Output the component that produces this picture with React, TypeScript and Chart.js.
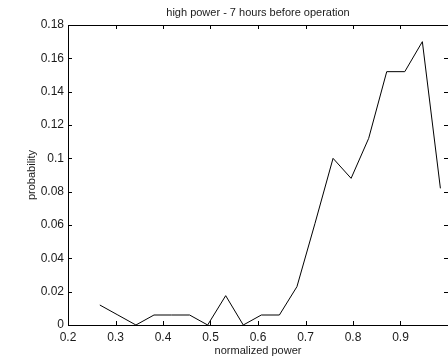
import React, { useEffect, useRef } from "react";
import { Chart, registerables } from "chart.js";

Chart.register(...registerables);

const powerLevels = [0.267, 0.305, 0.343, 0.381, 0.418, 0.456, 0.494, 0.532, 0.569, 0.607, 0.645, 0.682, 0.72, 0.758, 0.796, 0.833, 0.871, 0.909, 0.946, 0.984];
const probabilities = [0.012, 0.006, 0, 0.006, 0.006, 0.006, 0, 0.0176, 0, 0.006, 0.006, 0.023, 0.061, 0.1, 0.088, 0.112, 0.152, 0.152, 0.17, 0.082];
const chartTitle = "high power - 7 hours before operation";
const xTitle = "normalized power";
const yTitle = "probability";
const xMin = 0.2, xMax = 1.0, xStep = 0.1;
const yMin = 0, yMax = 0.18, yStep = 0.02;

const FONT = '"Liberation Sans", Arial, Helvetica, sans-serif';
const TEXT = "#1a1a1a";

const fmt = (v: number) => String(parseFloat(v.toFixed(3)));

const framePlugin = {
  id: "matlabFrame",
  afterDraw(chart: any) {
    const { ctx, chartArea } = chart;
    const { left, right, top, bottom } = chartArea;
    const xs = chart.scales.x;
    const ys = chart.scales.y;
    ctx.save();
    ctx.strokeStyle = "#000";
    ctx.lineWidth = 1;
    ctx.beginPath();
    ctx.rect(Math.round(left) + 0.5, Math.round(top) + 0.5, Math.round(right - left), Math.round(bottom - top));
    ctx.stroke();
    const tl = 4;
    ctx.beginPath();
    xs.ticks.forEach((t: any) => {
      const px = Math.round(xs.getPixelForValue(t.value)) + 0.5;
      ctx.moveTo(px, bottom);
      ctx.lineTo(px, bottom - tl);
      ctx.moveTo(px, top);
      ctx.lineTo(px, top + tl);
    });
    ys.ticks.forEach((t: any) => {
      const py = Math.round(ys.getPixelForValue(t.value)) + 0.5;
      ctx.moveTo(left, py);
      ctx.lineTo(left + tl, py);
      ctx.moveTo(right, py);
      ctx.lineTo(right - tl, py);
    });
    ctx.stroke();

    ctx.fillStyle = TEXT;
    ctx.textAlign = "center";
    ctx.textBaseline = "middle";
    ctx.font = `11px ${FONT}`;
    ctx.fillText(chartTitle, (left + right) / 2, 13);
    ctx.fillText(xTitle, (left + right) / 2, 351);
    ctx.translate(32, (top + bottom) / 2);
    ctx.rotate(-Math.PI / 2);
    ctx.fillText(yTitle, 0, 0);
    ctx.restore();
  },
};

export default function App() {
  const ref = useRef<HTMLCanvasElement | null>(null);
  useEffect(() => {
    document.body.style.margin = "0";
    const canvas = ref.current!;
    const chart = new Chart(canvas, {
      type: "line",
      data: {
        datasets: [
          {
            data: powerLevels.map((x, i) => ({ x, y: probabilities[i] })),
            borderColor: "#000",
            borderWidth: 1,
            pointRadius: 0,
            tension: 0,
            fill: false,
          },
        ],
      },
      options: {
        responsive: false,
        animation: false,
        devicePixelRatio: 1,
        layout: { padding: { top: 25, right: 0, left: 0, bottom: 0 } },
        plugins: { legend: { display: false }, title: { display: false }, tooltip: { enabled: false } },
        scales: {
          x: {
            type: "linear",
            min: xMin,
            max: xMax,
            grid: { display: false, drawTicks: false },
            border: { display: false },
            ticks: {
              stepSize: xStep,
              padding: 5,
              maxRotation: 0,
              autoSkip: false,
              color: TEXT,
              font: { family: FONT, size: 12 },
              callback: (v: any) => (Math.abs(v - xMax) < 1e-6 ? "" : fmt(v)),
            },
            afterFit: (s: any) => {
              s.height = 34;
              s.paddingRight = 0;
              s.paddingLeft = 0;
            },
          },
          y: {
            type: "linear",
            min: yMin,
            max: yMax,
            grid: { display: false, drawTicks: false },
            border: { display: false },
            ticks: {
              stepSize: yStep,
              padding: 4,
              autoSkip: false,
              color: TEXT,
              font: { family: FONT, size: 12 },
              callback: (v: any) => fmt(v),
            },
            afterFit: (s: any) => {
              s.width = 68;
              s.paddingTop = 0;
              s.paddingBottom = 0;
            },
          },
        },
      },
      plugins: [framePlugin],
    } as any);
    return () => chart.destroy();
  }, []);
  return <canvas ref={ref} width={448} height={359} style={{ display: "block", width: 448, height: 359 }} />;
}
